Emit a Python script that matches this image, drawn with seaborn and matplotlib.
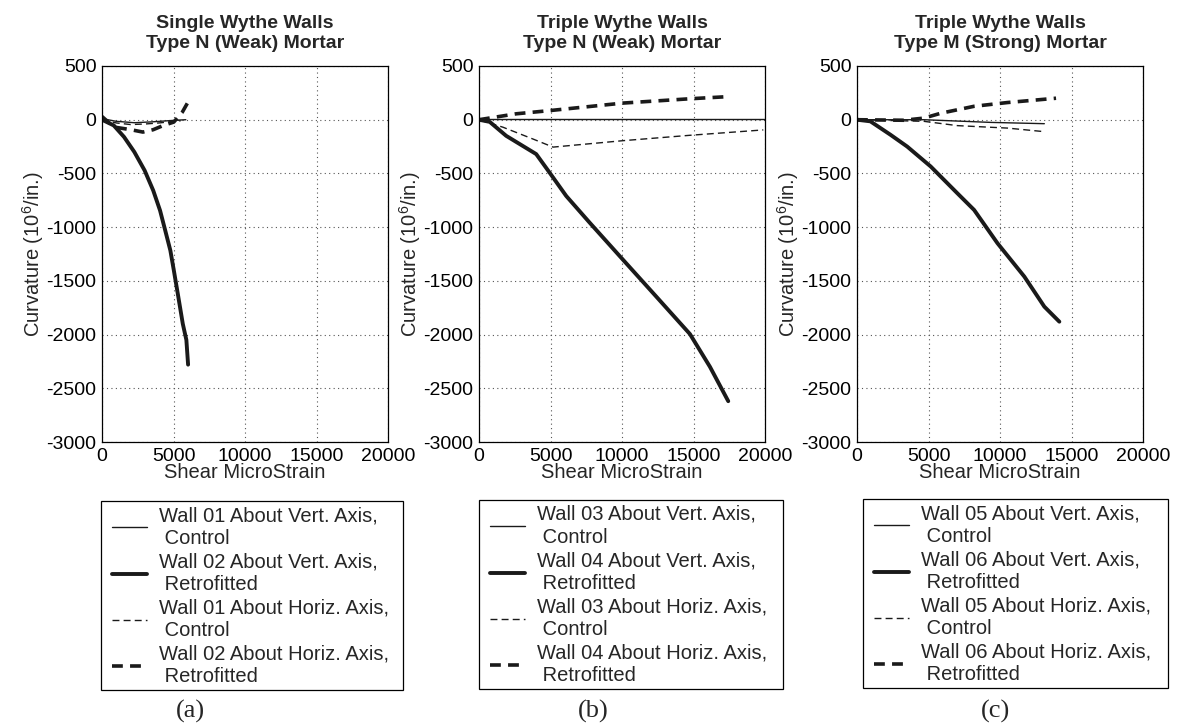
import matplotlib
matplotlib.use("Agg")
import matplotlib.pyplot as plt
from matplotlib.patches import Rectangle
import seaborn as sns
import numpy as np

# ---------------- data ----------------
titles = ["Single Wythe Walls\nType N (Weak) Mortar",
          "Triple Wythe Walls\nType N (Weak) Mortar",
          "Triple Wythe Walls\nType M (Strong) Mortar"]
panel_tags = ["(a)", "(b)", "(c)"]

# Panel (a)
a_vert_ctrl_x = [0, 1000, 2260, 3500, 5020, 5860]
a_vert_ctrl_y = [10, -15, -28, -20, -6, 0]
a_vert_retro_x = [0, 820, 1540, 2260, 2980, 3580, 4060, 4420, 4780, 5020, 5300, 5650, 5900, 6020]
a_vert_retro_y = [0, -53, -160, -300, -472, -658, -845, -1030, -1217, -1400, -1620, -1900, -2050, -2280]
a_horiz_ctrl_x = [0, 1000, 2000, 3000, 4000, 5000, 5500]
a_horiz_ctrl_y = [0, -30, -45, -40, -30, -15, -10]
a_horiz_retro_x = [0, 820, 2020, 2860, 3580, 4300, 5020, 5620, 6150]
a_horiz_retro_y = [30, -68, -93, -115, -93, -53, -22, 71, 196]

# Panel (b)
b_vert_ctrl_x = [0, 5000, 10000, 15000, 20000]
b_vert_ctrl_y = [5, 5, 5, 5, 5]
b_vert_retro_x = [0, 750, 1900, 4000, 4950, 6100, 7750, 10080, 12420, 14750, 16150, 17430]
b_vert_retro_y = [0, -20, -150, -320, -495, -710, -960, -1305, -1650, -1995, -2300, -2620]
b_horiz_ctrl_x = [0, 1680, 3780, 5180, 10080, 14750, 19880]
b_horiz_ctrl_y = [0, -70, -180, -255, -195, -145, -95]
b_horiz_retro_x = [0, 2600, 4950, 10080, 14750, 17430]
b_horiz_retro_y = [0, 55, 85, 155, 195, 215]

# Panel (c)
c_vert_ctrl_x = [0, 4680, 9360, 13100]
c_vert_ctrl_y = [0, 0, -25, -37]
c_vert_retro_x = [0, 935, 2340, 3510, 5150, 7020, 8190, 9825, 11700, 13100, 14150]
c_vert_retro_y = [0, -15, -140, -250, -435, -685, -840, -1150, -1460, -1740, -1880]
c_horiz_ctrl_x = [0, 4680, 7020, 10530, 13000]
c_horiz_ctrl_y = [0, -15, -55, -78, -110]
c_horiz_retro_x = [0, 3275, 4680, 5850, 8190, 10530, 13920]
c_horiz_retro_y = [0, -5, 15, 60, 125, 160, 200]

wall_ids = [("01", "02"), ("03", "04"), ("05", "06")]
x_ticks = [0, 5000, 10000, 15000, 20000]
y_ticks = [-3000, -2500, -2000, -1500, -1000, -500, 0, 500]

panels = [
    [(a_vert_ctrl_x, a_vert_ctrl_y), (a_vert_retro_x, a_vert_retro_y),
     (a_horiz_ctrl_x, a_horiz_ctrl_y), (a_horiz_retro_x, a_horiz_retro_y)],
    [(b_vert_ctrl_x, b_vert_ctrl_y), (b_vert_retro_x, b_vert_retro_y),
     (b_horiz_ctrl_x, b_horiz_ctrl_y), (b_horiz_retro_x, b_horiz_retro_y)],
    [(c_vert_ctrl_x, c_vert_ctrl_y), (c_vert_retro_x, c_vert_retro_y),
     (c_horiz_ctrl_x, c_horiz_ctrl_y), (c_horiz_retro_x, c_horiz_retro_y)],
]

# ---------------- style ----------------
sns.set_theme(style="white")
plt.rcParams['font.family'] = ['Liberation Sans', 'DejaVu Sans']
plt.rcParams['mathtext.fontset'] = 'custom'
plt.rcParams['mathtext.rm'] = 'Liberation Sans'

W, H = 1180, 727
fig = plt.figure(figsize=(W / 100, H / 100), dpi=100)
fig.patch.set_facecolor('white')

ax_lefts = [102, 479, 857]
ax_w = 286
ax_top, ax_bot = 66, 442
leg_boxes = [(101, 501, 403, 690), (479, 500, 783, 689), (863, 499, 1168, 688)]
tag_x = [190, 593, 995]

styles = [
    dict(lw=1.0, ls='-', color='#1a1a1a'),
    dict(lw=2.8, ls='-', color='#1a1a1a'),
    dict(lw=1.0, ls=(0, (5, 3)), color='#1a1a1a'),
    dict(lw=2.6, ls=(0, (3, 2)), color='#1a1a1a'),
]

for i in range(3):
    ax = fig.add_axes([ax_lefts[i] / W, 1 - ax_bot / H, ax_w / W, (ax_bot - ax_top) / H])
    ctrl, retro = wall_ids[i]
    labels = [f"Wall {ctrl} About Vert. Axis,\n Control",
              f"Wall {retro} About Vert. Axis,\n Retrofitted",
              f"Wall {ctrl} About Horiz. Axis,\n Control",
              f"Wall {retro} About Horiz. Axis,\n Retrofitted"]
    handles = []
    for (xs, ys), st, lab in zip(panels[i], styles, labels):
        sns.lineplot(x=xs, y=ys, ax=ax, sort=False, estimator=None,
                     color=st['color'], linewidth=st['lw'], linestyle=st['ls'],
                     label=lab, legend=False)
        handles.append(ax.lines[-1])
    ax.set_xlim(0, 20000)
    ax.set_ylim(-3000, 500)
    ax.set_xticks(x_ticks)
    ax.set_yticks(y_ticks)
    ax.set_xticklabels([str(t) for t in x_ticks])
    ax.set_yticklabels([str(t) for t in y_ticks])
    ax.tick_params(axis='both', labelsize=14, direction='in', length=3, width=0.8,
                   pad=4, colors='black')
    ax.grid(True, linestyle=(0, (1, 3)), color='#555555', linewidth=0.8)
    for sp in ax.spines.values():
        sp.set_visible(True)
        sp.set_color('black')
        sp.set_linewidth(0.9)
    ax.set_xlabel("Shear MicroStrain", fontsize=14.5, labelpad=-1)
    ax.set_ylabel("Curvature (10$^6$/in.)", fontsize=14.5, labelpad=0)
    ax.set_title(titles[i], fontsize=14, fontweight='bold', pad=13, linespacing=1.2)

    l, t, r, b = leg_boxes[i]
    # legend frame box
    fig.patches.append(Rectangle((l / W, 1 - b / H), (r - l) / W, (b - t) / H,
                                 transform=fig.transFigure, fill=False,
                                 edgecolor='black', linewidth=0.9))
    leg = fig.legend(handles=handles, labels=labels, loc='upper left',
                     bbox_to_anchor=((l + 11) / W, 1 - (t + 5) / H),
                     bbox_transform=fig.transFigure,
                     fontsize=14.5, frameon=False,
                     borderaxespad=0, handlelength=1.74, handletextpad=0.6,
                     borderpad=0.0, labelspacing=0.22)
    for txt in leg.get_texts():
        txt.set_linespacing(1.25)
    fig.text(tag_x[i] / W, 1 - 711 / H, panel_tags[i], ha='center', va='center',
             fontsize=19, family=['Liberation Serif', 'DejaVu Serif'])

fig.savefig("out.png", dpi=100, facecolor='white')
